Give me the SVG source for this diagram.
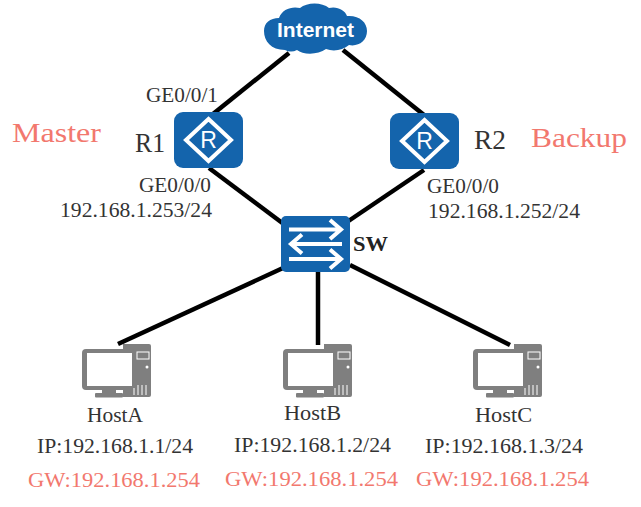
<svg xmlns="http://www.w3.org/2000/svg" width="641" height="507" viewBox="0 0 641 507">
<style>
text{font-family:"Liberation Serif","DejaVu Serif",serif;fill:#333;font-size:20px}
.red{fill:#f2786e}
.big{font-size:28px}
.lg{font-size:28px}
.blue{fill:#1464ac}
.wl{fill:none;stroke:#fff;stroke-width:4}
.link{stroke:#000;stroke-width:4.500;fill:none}
.gray{fill:#7f7f7f}
</style>
<defs>
<g id="router">
<rect x="0" y="0" width="69" height="56" rx="9" class="blue"/>
<path d="M34.500 7L57 28L34.500 49L12 28Z" class="wl"/>
<text x="34.500" y="36" text-anchor="middle" style="font-family:'Liberation Sans',sans-serif;font-size:23px;fill:#fff">R</text>
</g>
<g id="host">
<path d="M123 344h26q2 0 2 2v49q0 2-2 2h-26z" class="gray"/>
<rect x="82" y="349" width="54" height="41" rx="4" class="gray"/>
<rect x="87" y="353" width="45" height="33" fill="#fff"/>
<rect x="95" y="393" width="28" height="4.500" rx="1" class="gray"/>
<rect x="102" y="390" width="14" height="4" class="gray"/>
<rect x="137" y="352" width="12" height="7" fill="none" stroke="#fff"/>
<circle cx="147" cy="367" r="1.500" fill="#fff"/>
<path d="M134 395V388M138 395V385M142 395V385M146 395V385" stroke="#fff" stroke-width="1"/>
</g>
</defs>
<g id="connectors">
<path class="link" d="M289 53L213 114"/>
<path class="link" d="M343 50L424 115"/>
<path class="link" d="M209 168L285 225"/>
<path class="link" d="M424 170L347 222"/>
<path class="link" d="M283 268L118 344"/>
<path class="link" d="M318 272V345"/>
<path class="link" d="M350 265L510 345"/>
</g>
<g id="internet">
<path class="blue" d="M285 50C271 50 264 41 264 31C264 23 270 18 279 18C282 9 292 6 300 8C307 2 322 2 329 8C337 6 345 10 347 16C359 15 367 22 367 31C367 41 358 47 349 45C343 50 334 52 326 49C318 55 303 55 297 50C293 52 289 52 285 50Z"/>
<text x="315.500" y="37" text-anchor="middle" style="font-family:'Liberation Sans',sans-serif;font-weight:bold;font-size:21px;fill:#fff" textLength="77" lengthAdjust="spacingAndGlyphs">Internet</text>
</g>
<g id="r1">
<use href="#router" x="174" y="112"/>
<text x="135" y="152" class="lg" textLength="30" lengthAdjust="spacingAndGlyphs">R1</text>
<text x="146" y="102" textLength="72" lengthAdjust="spacingAndGlyphs">GE0/0/1</text>
<text x="139" y="192" textLength="72" lengthAdjust="spacingAndGlyphs">GE0/0/0</text>
<text x="60" y="217" textLength="152" lengthAdjust="spacingAndGlyphs">192.168.1.253/24</text>
<text x="12" y="142" class="big red" textLength="89" lengthAdjust="spacingAndGlyphs">Master</text>
</g>
<g id="r2">
<use href="#router" x="390" y="113"/>
<text x="474" y="149" class="lg" textLength="32" lengthAdjust="spacingAndGlyphs">R2</text>
<text x="427" y="193" textLength="72" lengthAdjust="spacingAndGlyphs">GE0/0/0</text>
<text x="428" y="218" textLength="152" lengthAdjust="spacingAndGlyphs">192.168.1.252/24</text>
<text x="531" y="147" class="big red" textLength="96" lengthAdjust="spacingAndGlyphs">Backup</text>
</g>
<g id="sw">
<rect x="281" y="216" width="69" height="56" rx="5" class="blue"/>
<path class="wl" d="M289 229.500H340M330 220L341 229.500L330 239M342 244H292M302 234.500L291 244L302 253.500M289 259H340M330 249.500L341 259L330 268.500"/>
<text x="353" y="251" textLength="35" lengthAdjust="spacingAndGlyphs" style="font-weight:bold;fill:#222">SW</text>
</g>
<g id="hostA">
<use href="#host"/>
<text x="87" y="422" textLength="56" lengthAdjust="spacingAndGlyphs">HostA</text>
<text x="37" y="453" textLength="156" lengthAdjust="spacingAndGlyphs">IP:192.168.1.1/24</text>
<text x="28" y="487" class="red" textLength="172" lengthAdjust="spacingAndGlyphs">GW:192.168.1.254</text>
</g>
<g id="hostB">
<use href="#host" x="201"/>
<text x="284" y="420" textLength="57" lengthAdjust="spacingAndGlyphs">HostB</text>
<text x="234" y="452" textLength="157" lengthAdjust="spacingAndGlyphs">IP:192.168.1.2/24</text>
<text x="225" y="486" class="red" textLength="173" lengthAdjust="spacingAndGlyphs">GW:192.168.1.254</text>
</g>
<g id="hostC">
<use href="#host" x="391"/>
<text x="475" y="422" textLength="57" lengthAdjust="spacingAndGlyphs">HostC</text>
<text x="425" y="453" textLength="158" lengthAdjust="spacingAndGlyphs">IP:192.168.1.3/24</text>
<text x="416" y="486" class="red" textLength="173" lengthAdjust="spacingAndGlyphs">GW:192.168.1.254</text>
</g>
</svg>
